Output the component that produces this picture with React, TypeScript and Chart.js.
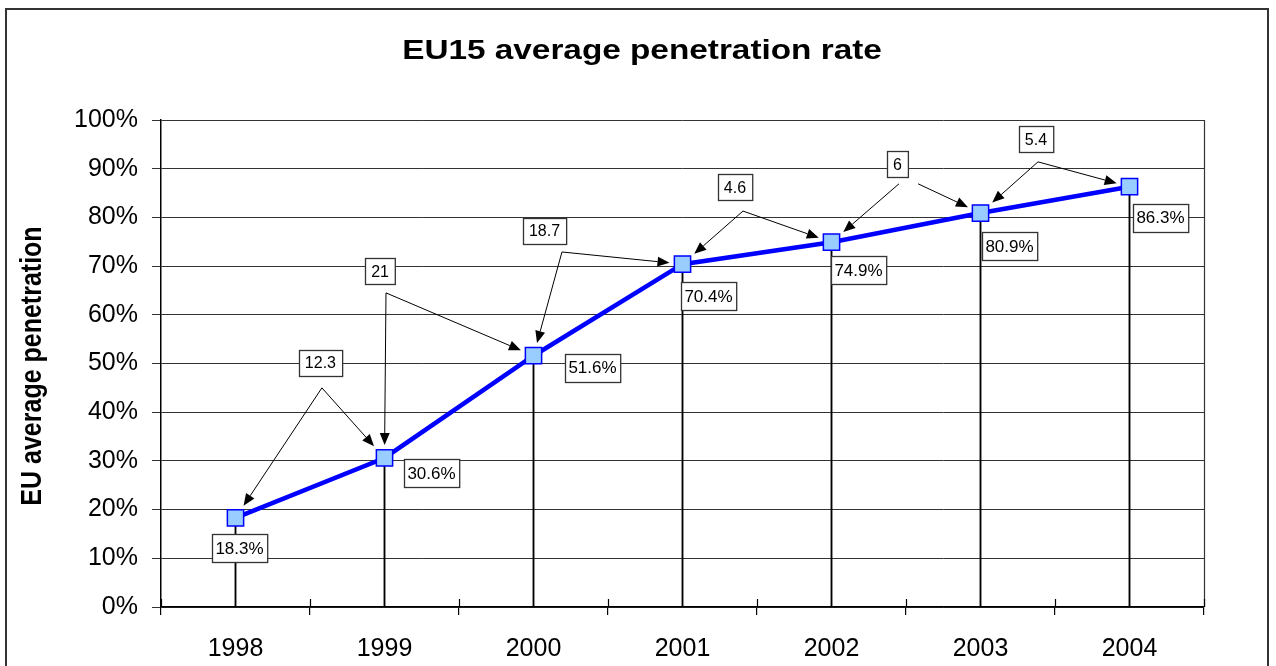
import React, { useEffect, useRef } from "react";
import { Chart, registerables } from "chart.js";

Chart.register(...registerables);

// ---- data ----
const years = ["1998", "1999", "2000", "2001", "2002", "2003", "2004"];
const penetration = [18.3, 30.6, 51.6, 70.4, 74.9, 80.9, 86.3];
const valueLabels = ["18.3%", "30.6%", "51.6%", "70.4%", "74.9%", "80.9%", "86.3%"];
const growthLabels = ["12.3", "21", "18.7", "4.6", "6", "5.4"];
const yMin = 0;
const yMax = 100;
const yStep = 10;
const titleText = "EU15 average penetration rate";
const yTitleText = "EU average penetration";

// ---- layout (style only) ----
const FONT = "'Liberation Sans', Arial, sans-serif";
// pixel offsets of value labels relative to their point
const LABEL_OFFSETS: [number, number][] = [
  [4, 30], [47, 15], [59, 12], [26, 32], [27, 28], [29, 33], [31, 31],
];
// callout positions in (category index, value) units
const CALLOUT_LAYOUT = [
  { box: [0.57, 50.2], apex: [[0.58, 45.0], [0.58, 45.0]], targets: [0, 1] },
  { box: [0.97, 68.9], apex: [[1.01, 64.5], [1.01, 64.5]], targets: [1, 2] },
  { box: [2.074, 77.3], apex: [[2.191, 72.9], [2.191, 72.9]], targets: [2, 3] },
  { box: [3.352, 86.2], apex: [[3.406, 81.3], [3.406, 81.3]], targets: [3, 4] },
  { box: [4.443, 90.9], apex: [[4.453, 86.9], [4.581, 86.9]], targets: [4, 5] },
  { box: [5.372, 96.0], apex: [[5.386, 91.4], [5.386, 91.4]], targets: [5, 6] },
];

function drawArrow(ctx: CanvasRenderingContext2D, x0: number, y0: number, x1: number, y1: number) {
  const dx = x1 - x0;
  const dy = y1 - y0;
  const len = Math.hypot(dx, dy);
  const ux = dx / len;
  const uy = dy / len;
  const hs = 8;
  const d = Math.min(Math.abs(ux) > 1e-6 ? hs / Math.abs(ux) : 1e9, Math.abs(uy) > 1e-6 ? hs / Math.abs(uy) : 1e9) + 5;
  const tx = x1 - ux * d;
  const ty = y1 - uy * d;
  const headL = 12;
  const headW = 5;
  const bx = tx - ux * headL;
  const by = ty - uy * headL;
  ctx.beginPath();
  ctx.moveTo(x0, y0);
  ctx.lineTo(bx, by);
  ctx.strokeStyle = "#000";
  ctx.lineWidth = 1;
  ctx.stroke();
  ctx.beginPath();
  ctx.moveTo(tx, ty);
  ctx.lineTo(bx - uy * headW, by + ux * headW);
  ctx.lineTo(bx + uy * headW, by - ux * headW);
  ctx.closePath();
  ctx.fillStyle = "#000";
  ctx.fill();
}

function drawBoxText(
  ctx: CanvasRenderingContext2D, text: string, cx: number, cy: number,
  fontSize: number, padX: number, h: number
) {
  ctx.font = `${fontSize}px ${FONT}`;
  const w = ctx.measureText(text).width + padX * 2;
  const x = Math.round(cx - w / 2) + 0.5;
  const y = Math.round(cy - h / 2) + 0.5;
  ctx.fillStyle = "#fff";
  ctx.fillRect(x, y, w, h);
  ctx.strokeStyle = "#333";
  ctx.lineWidth = 1.3;
  ctx.strokeRect(x, y, w, h);
  ctx.fillStyle = "#000";
  ctx.textAlign = "center";
  ctx.textBaseline = "middle";
  ctx.fillText(text, cx, cy + 1);
}

const decorPlugin = {
  id: "decor",
  beforeDraw(chart: any) {
    const ctx = chart.ctx as CanvasRenderingContext2D;
    ctx.save();
    ctx.fillStyle = "#fff";
    ctx.fillRect(0, 0, chart.width, chart.height);
    ctx.strokeStyle = "#333";
    ctx.lineWidth = 2;
    ctx.strokeRect(6, 9, 1262, chart.height + 20);
    ctx.restore();
  },
  afterDatasetsDraw(chart: any) {
    const ctx = chart.ctx as CanvasRenderingContext2D;
    const xs = chart.scales.x;
    const ys = chart.scales.y;
    const area = chart.chartArea;
    ctx.save();

    // plot area right border
    ctx.strokeStyle = "#333";
    ctx.lineWidth = 1.2;
    ctx.beginPath();
    ctx.moveTo(area.right + 0.5, area.top);
    ctx.lineTo(area.right + 0.5, area.bottom);
    ctx.stroke();

    // inner part of x category ticks
    ctx.strokeStyle = "#000";
    ctx.lineWidth = 1.2;
    for (let i = 0; i <= years.length; i++) {
      const px = Math.round(xs.getPixelForValue(i - 0.5)) + 0.5;
      ctx.beginPath();
      ctx.moveTo(px, area.bottom - 8);
      ctx.lineTo(px, area.bottom);
      ctx.stroke();
    }

    // callout arrows
    CALLOUT_LAYOUT.forEach((c) => {
      c.targets.forEach((t, k) => {
        const ax = xs.getPixelForValue(c.apex[k][0]);
        const ay = ys.getPixelForValue(c.apex[k][1]);
        const px = xs.getPixelForValue(t);
        const py = ys.getPixelForValue(penetration[t]);
        drawArrow(ctx, ax, ay, px, py);
      });
    });
    // callout boxes
    CALLOUT_LAYOUT.forEach((c, i) => {
      const bx = xs.getPixelForValue(c.box[0]);
      const by = ys.getPixelForValue(c.box[1]);
      drawBoxText(ctx, growthLabels[i], bx, by, 16, 6, 26);
    });

    // value labels
    penetration.forEach((v, i) => {
      const px = xs.getPixelForValue(i) + LABEL_OFFSETS[i][0];
      const py = ys.getPixelForValue(v) + LABEL_OFFSETS[i][1];
      drawBoxText(ctx, valueLabels[i], px, py, 17, 3.5, 28);
    });

    // title
    ctx.fillStyle = "#000";
    ctx.font = `bold 28px ${FONT}`;
    ctx.textAlign = "center";
    ctx.textBaseline = "alphabetic";
    ctx.save();
    ctx.translate(642, 59);
    ctx.scale(1.19, 1.02);
    ctx.fillText(titleText, 0, 0);
    ctx.restore();

    // y axis title
    ctx.save();
    ctx.font = `bold 25px ${FONT}`;
    ctx.translate(40.5, 366);
    ctx.rotate(-Math.PI / 2);
    ctx.scale(1, 1.17);
    ctx.textAlign = "center";
    ctx.textBaseline = "alphabetic";
    ctx.fillText(yTitleText, 0, 0);
    ctx.restore();

    ctx.restore();
  },
};

export default function App() {
  const canvasRef = useRef<HTMLCanvasElement | null>(null);

  useEffect(() => {
    if (!canvasRef.current) return;
    const chart = new Chart(canvasRef.current, {
      type: "bar",
      data: {
        labels: years,
        datasets: [
          {
            type: "line",
            label: "EU average penetration",
            data: penetration,
            borderColor: "#0000FF",
            borderWidth: 4.5,
            tension: 0,
            pointStyle: "rect",
            pointRadius: 11.5,
            pointHoverRadius: 11.5,
            pointBackgroundColor: "#99CCFF",
            pointBorderColor: "#0000FF",
            pointBorderWidth: 1.5,
            order: 0,
          } as any,
          {
            type: "bar",
            label: "drop",
            data: penetration,
            backgroundColor: "#000",
            barThickness: 1.2,
            borderWidth: 0,
            order: 1,
          } as any,
        ],
      },
      options: {
        animation: false,
        responsive: true,
        maintainAspectRatio: false,
        layout: { padding: { left: 0, top: 120, right: 72, bottom: 0 } },
        plugins: {
          legend: { display: false },
          title: { display: false },
          tooltip: { enabled: false },
        },
        scales: {
          x: {
            type: "category",
            offset: true,
            grid: {
              offset: true,
              drawOnChartArea: false,
              drawTicks: true,
              tickLength: 8,
              color: "#000",
              lineWidth: 1.2,
            },
            border: { color: "#000", width: 1.5 },
            ticks: {
              color: "#000",
              font: { family: FONT, size: 25 },
              padding: 19,
              maxRotation: 0,
            },
            afterFit: (s: any) => {
              s.height = 59;
            },
          },
          y: {
            min: yMin,
            max: yMax,
            ticks: {
              stepSize: yStep,
              color: "#000",
              font: { family: FONT, size: 25 },
              padding: 14,
              callback: (v: any) => `${v}%`,
            },
            grid: {
              color: "#333",
              lineWidth: 1,
              tickLength: 9,
              drawTicks: true,
            },
            border: { color: "#000", width: 1.5 },
            afterFit: (s: any) => {
              s.width = 161;
            },
          },
        },
      },
      plugins: [decorPlugin],
    });
    return () => chart.destroy();
  }, []);

  return (
    <div style={{ position: "fixed", left: 0, top: 0, width: 1276, height: 666, background: "#fff" }}>
      <canvas ref={canvasRef} />
    </div>
  );
}
